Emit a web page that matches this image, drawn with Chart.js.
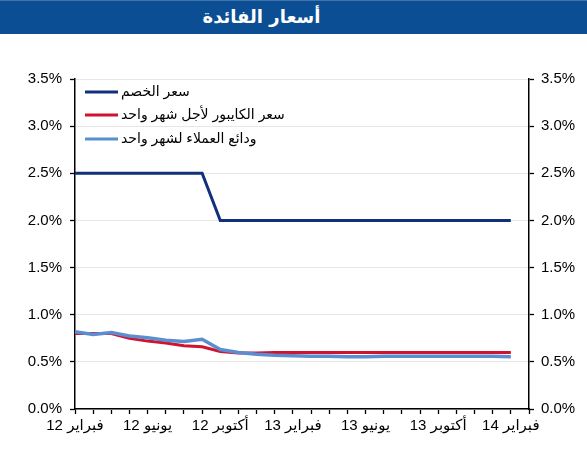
<!DOCTYPE html>
<html>
<head>
<meta charset="utf-8">
<script src="https://cdn.jsdelivr.net/npm/chart.js@4"></script>
<style>
  html, body { margin: 0; padding: 0; background: #fff; }
  #bar {
    width: 587px; height: 34px; background: #0b4e93;
    border-top: 1px solid #3f74ad; box-sizing: border-box;
    color: #fff; font: bold 18px "DejaVu Sans", "Liberation Sans", sans-serif;
    line-height: 32px; text-align: center; padding-right: 64px;
  }
  #wrap { width: 587px; height: 416px; position: relative; }
</style>
</head>
<body>
<div id="bar">أسعار الفائدة</div>
<div id="wrap"><canvas id="myChart"></canvas></div>
<script>
const months = [
    "فبراير 12", "مارس 12", "أبريل 12", "مايو 12", "يونيو 12", "يوليو 12",
    "أغسطس 12", "سبتمبر 12", "أكتوبر 12", "نوفمبر 12", "ديسمبر 12", "يناير 13",
    "فبراير 13", "مارس 13", "أبريل 13", "مايو 13", "يونيو 13", "يوليو 13",
    "أغسطس 13", "سبتمبر 13", "أكتوبر 13", "نوفمبر 13", "ديسمبر 13", "يناير 14",
    "فبراير 14", "مارس 14",
];

const discountRate = [2.5, 2.5, 2.5, 2.5, 2.5, 2.5, 2.5, 2.5, 2.0, 2.0, 2.0, 2.0, 2.0,
    2.0, 2.0, 2.0, 2.0, 2.0, 2.0, 2.0, 2.0, 2.0, 2.0, 2.0, 2.0];
const kibor1m = [0.80, 0.80, 0.80, 0.75, 0.72, 0.70, 0.67, 0.66, 0.61, 0.595, 0.595, 0.60, 0.60,
    0.60, 0.60, 0.60, 0.60, 0.60, 0.60, 0.60, 0.60, 0.60, 0.60, 0.60, 0.60];
const deposits1m = [0.82, 0.79, 0.81, 0.775, 0.755, 0.73, 0.715, 0.74, 0.63, 0.60, 0.58, 0.57, 0.565,
    0.56, 0.56, 0.555, 0.555, 0.56, 0.56, 0.56, 0.56, 0.56, 0.56, 0.56, 0.555];

const seriesNames = ["سعر الخصم", "سعر الكايبور لأجل شهر واحد", "ودائع العملاء لشهر واحد"];
const yTicks = { min: 0, max: 3.5, step: 0.5 };

Chart.defaults.font.family = '"Liberation Sans", "DejaVu Sans", Arial, sans-serif';
Chart.defaults.color = "#000";

// legend drawn inside the plot, top-left, one row per series
const insideLegend = {
    id: "insideLegend",
    afterDraw(chart) {
        const c = chart.ctx;
        const area = chart.chartArea;
        const rows = [13, 36, 60];
        c.save();
        c.font = '14px "Liberation Sans", "DejaVu Sans", sans-serif';
        c.textBaseline = "middle";
        c.fillStyle = "#000";
        chart.data.datasets.forEach((ds, i) => {
            const y = area.top + rows[i];
            c.strokeStyle = ds.borderColor;
            c.lineWidth = 3;
            c.beginPath();
            c.moveTo(area.left + 10, y);
            c.lineTo(area.left + 43, y);
            c.stroke();
            c.fillText(ds.label, area.left + 46, y);
        });
        c.restore();
    },
};

const pct = (v) => v.toFixed(1) + "%";

const chart = new Chart(document.getElementById("myChart"), {
    type: "line",
    data: {
        labels: months,
        datasets: [
            {
                label: seriesNames[0],
                data: discountRate,
                borderColor: "#12307a",
                borderWidth: 3,
                order: 2,
            },
            {
                label: seriesNames[1],
                data: kibor1m,
                borderColor: "#d0132f",
                borderWidth: 3,
                order: 1,
            },
            {
                label: seriesNames[2],
                data: deposits1m,
                borderColor: "#5b8ed1",
                borderWidth: 3.5,
                order: 0,
            },
        ],
    },
    options: {
        responsive: true,
        maintainAspectRatio: false,
        animation: false,
        elements: {
            point: { radius: 0 },
            line: { tension: 0 },
        },
        layout: {
            padding: { top: 45, left: 0, right: 0, bottom: 0 },
        },
        scales: {
            x: {
                offset: false,
                grid: {
                    drawOnChartArea: false,
                    drawTicks: true,
                    tickLength: 5,
                    tickColor: "#000",
                    tickWidth: 1.3,
                },
                border: { color: "#000", width: 1.5 },
                ticks: {
                    autoSkip: false,
                    maxRotation: 0,
                    padding: 3,
                    font: { size: 15 },
                    callback: function (value, index) {
                        return index % 4 === 0 ? this.getLabelForValue(value) : "";
                    },
                },
                afterFit(scale) { scale.height = 41; },
            },
            y: {
                position: "left",
                min: yTicks.min,
                max: yTicks.max,
                grid: {
                    color: "#e6e6e6",
                    drawTicks: true,
                    tickLength: 5,
                    tickColor: "#000",
                    tickWidth: 1.3,
                },
                border: { color: "#000", width: 1.5 },
                ticks: {
                    stepSize: yTicks.step,
                    padding: 8,
                    font: { size: 15 },
                    callback: pct,
                },
                afterFit(scale) { scale.width = 75; },
            },
            y2: {
                position: "right",
                min: yTicks.min,
                max: yTicks.max,
                grid: {
                    drawOnChartArea: false,
                    drawTicks: true,
                    tickLength: 5,
                    tickColor: "#000",
                    tickWidth: 1.3,
                },
                border: { color: "#000", width: 1.5 },
                ticks: {
                    stepSize: yTicks.step,
                    padding: 7,
                    font: { size: 15 },
                    callback: pct,
                },
                afterFit(scale) { scale.width = 58; },
            },
        },
        plugins: {
            legend: { display: false },
            tooltip: { enabled: false },
        },
    },
    plugins: [insideLegend],
});
</script>
</body>
</html>
